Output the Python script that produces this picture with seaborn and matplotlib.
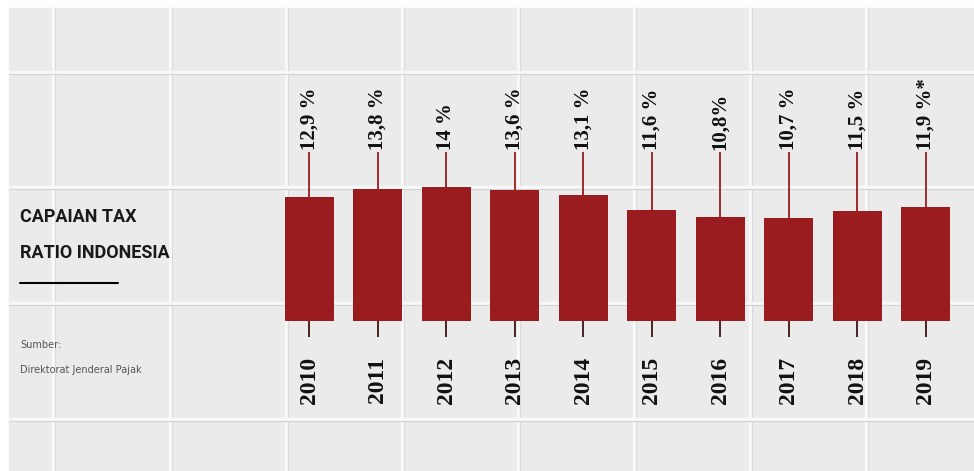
import numpy as np
import pandas as pd
import matplotlib.pyplot as plt
import seaborn as sns

years = ["2010", "2011", "2012", "2013", "2014", "2015", "2016", "2017", "2018", "2019"]
ratio = [12.9, 13.8, 14.0, 13.6, 13.1, 11.6, 10.8, 10.7, 11.5, 11.9]
value_labels = ["12,9 %", "13,8 %", "14 %", "13,6 %", "13,1 %",
                "11,6 %", "10,8%", "10,7 %", "11,5 %", "11,9 %*"]

df = pd.DataFrame({"year": years, "ratio": ratio})

bar_color = "#9b1c1f"
W, H = 974, 471

sns.set_style("white")
fig = plt.figure(figsize=(W / 100, H / 100), dpi=100)
fig.patch.set_facecolor("white")

# background "tile wall" in pixel coordinates
bg = fig.add_axes([0, 0, 1, 1])
bg.set_xlim(0, W)
bg.set_ylim(H, 0)
bg.axis("off")
bg.add_patch(plt.Rectangle((9, 8), W - 9, H - 8, color="#ebebeb", zorder=0))
for gx in [53, 170, 286, 402, 518, 634, 750, 866]:
    bg.plot([gx, gx], [8, H], color="#f8f8f8", lw=2.5, zorder=1)
    bg.plot([gx + 2, gx + 2], [8, H], color="#d9d9d9", lw=0.8, zorder=1)
for gy in [72, 187, 303, 419]:
    bg.plot([9, W], [gy, gy], color="#f8f8f8", lw=2.5, zorder=1)
    bg.plot([9, W], [gy + 2, gy + 2], color="#d2d2d2", lw=0.8, zorder=1)

title_font = ["Roboto", "DejaVu Sans"]
bg.text(20, 222, "CAPAIAN TAX", family=title_font, fontweight="bold",
        fontsize=13, color="#1a1a1a", va="baseline", ha="left")
bg.text(20, 258, "RATIO INDONESIA", family=title_font, fontweight="bold",
        fontsize=13, color="#1a1a1a", va="baseline", ha="left")
bg.plot([20, 118], [283, 283], color="black", lw=1.5)
bg.text(20, 348, "Sumber:", fontsize=7, color="#555555", va="baseline")
bg.text(20, 373, "Direktorat Jenderal Pajak", fontsize=7, color="#555555", va="baseline")

# chart
px_per_unit = 9.6
zero_px = 321
ax = fig.add_axes([275 / W, 0, 685 / W, 1])
ax.patch.set_alpha(0)
sns.barplot(data=df, x="year", y="ratio", color=bar_color, saturation=1,
            width=0.72, linewidth=0, ax=ax, zorder=3)
ax.set_xlim(-0.5, len(years) - 0.5)
ax.set_ylim(-(H - zero_px) / px_per_unit, zero_px / px_per_unit)
ax.axis("off")

label_base = (zero_px - 152) / px_per_unit
stem_low = -(337 - zero_px) / px_per_unit
year_top = -(357 - zero_px) / px_per_unit
xs = np.arange(len(years))
ax.vlines(xs, ratio, label_base, color=bar_color, lw=1.3, zorder=2)
ax.vlines(xs, stem_low, 0, color="#3b1414", lw=1.3, zorder=2)

serif = ["Liberation Serif", "DejaVu Serif"]
for i, (lab, yr) in enumerate(zip(value_labels, years)):
    ax.text(i, label_base + 0.2, lab, rotation=90, ha="center", va="bottom",
            family=serif, fontweight="bold", fontsize=15, color="#111111")
    ax.text(i, year_top, yr, rotation=90, ha="center", va="top",
            family=serif, fontweight="bold", fontsize=17, color="#111111")

fig.savefig("out.png", dpi=100)
plt.close()
